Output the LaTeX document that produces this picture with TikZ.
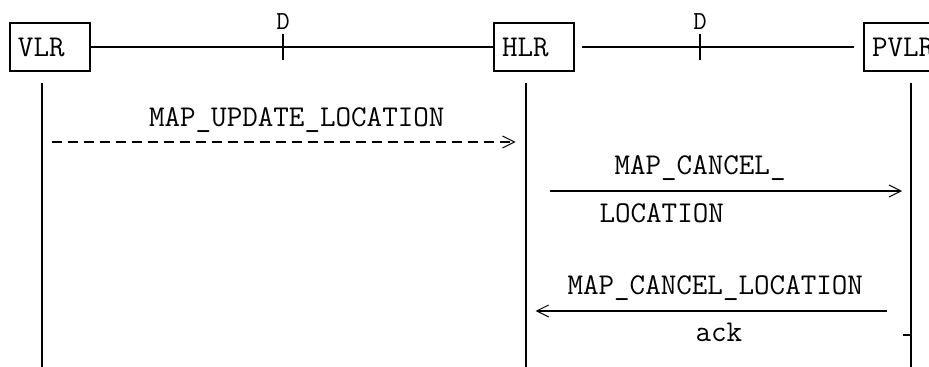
\documentclass[tikz,border=0pt]{standalone}
\usepackage{fontspec}
\usepackage{tikz}
\usetikzlibrary{positioning,arrows.meta}

\begin{document}
\begin{tikzpicture}[
  x=0.5pt, y=-0.5pt,
  font=\ttfamily\fontsize{15.1pt}{17pt}\selectfont,
  ent/.style={draw, rectangle, line width=1pt, text width=32pt, align=left, inner xsep=4pt, minimum height=24pt},
  link/.style={line width=1pt},
  tickmark/.style={line width=1pt},
  life/.style={line width=1pt},
  msg/.style={line width=1pt, -{Straight Barb[length=6pt, width=6pt, line width=0.5pt]}},
  lbl/.style={inner sep=0pt},
  dlbl/.style={inner sep=0pt, anchor=base, font=\ttfamily\fontsize{13pt}{14pt}\selectfont},
]
  \useasboundingbox (0,0) rectangle (929,367);
  \clip (0,0) rectangle (929,367);

  % entities
  \node[ent] (vlr) at (50,47) {VLR};
  \node[ent, right=201pt of vlr] (hlr) {HLR};
  \node[ent, right=144pt of hlr] (pvlr) {PVLR};

  % interfaces between entities
  \draw[link] (vlr.east) -- (hlr.west);
  \draw[link] ([xshift=3.5pt]hlr.east) -- ([xshift=-4.5pt]pvlr.west);
  \coordinate (d1) at (283,47);
  \coordinate (d2) at (700,47);
  \draw[tickmark] ([yshift=6.5pt]d1) -- ([yshift=-6.5pt]d1) node[dlbl, pos=0, yshift=2pt] {D};
  \draw[tickmark] ([yshift=6.5pt]d2) -- ([yshift=-6.5pt]d2) node[dlbl, pos=0, yshift=2pt] {D};

  % lifelines
  \draw[life] ([xshift=-4pt,yshift=-5.5pt]vlr.south) coordinate (vlrtop) -- ++(0,290);
  \draw[life] ([xshift=-4.25pt,yshift=-5.5pt]hlr.south) coordinate (hlrtop) -- ++(0,290);
  \draw[life] ([xshift=24pt,yshift=-5.5pt]pvlr.west |- pvlr.south) coordinate (pvlrtop) -- ++(0,290);

  % message rows
  \coordinate (r1) at (0,142);
  \coordinate (r2) at (0,191);
  \coordinate (r3) at (0,311);

  \draw[msg, dash pattern=on 5pt off 3pt] ([xshift=5pt]vlrtop |- r1) -- ([xshift=-5pt]hlrtop |- r1)
    node[lbl, pos=0, anchor=base west, xshift=48pt, yshift=7.75pt] (upd) {MAP\_UPDATE\_LOCATION};
  \draw[msg] ([xshift=12pt]hlrtop |- r2) -- ([xshift=-4.5pt]pvlrtop |- r2)
    node[lbl, pos=0, anchor=base west, xshift=32pt, yshift=8pt] (can) {MAP\_CANCEL\_}
    node[lbl, pos=0, anchor=base west, xshift=24.5pt, yshift=-16pt] (canb) {LOCATION};
  \draw[msg] ([xshift=-12pt]pvlrtop |- r3) -- ([xshift=5pt]hlrtop |- r3)
    node[lbl, pos=1, anchor=base west, xshift=15.5pt, yshift=8pt] (ack) {MAP\_CANCEL\_LOCATION}
    node[lbl, pos=1, anchor=base west, xshift=79.5pt, yshift=-15.5pt] (ackb) {ack};

  % small mark on PVLR lifeline
  \coordinate (am) at ([yshift=-12pt]pvlrtop |- r3);
  \draw[tickmark] ([xshift=-4pt]am) -- (am);
\end{tikzpicture}
\end{document}
